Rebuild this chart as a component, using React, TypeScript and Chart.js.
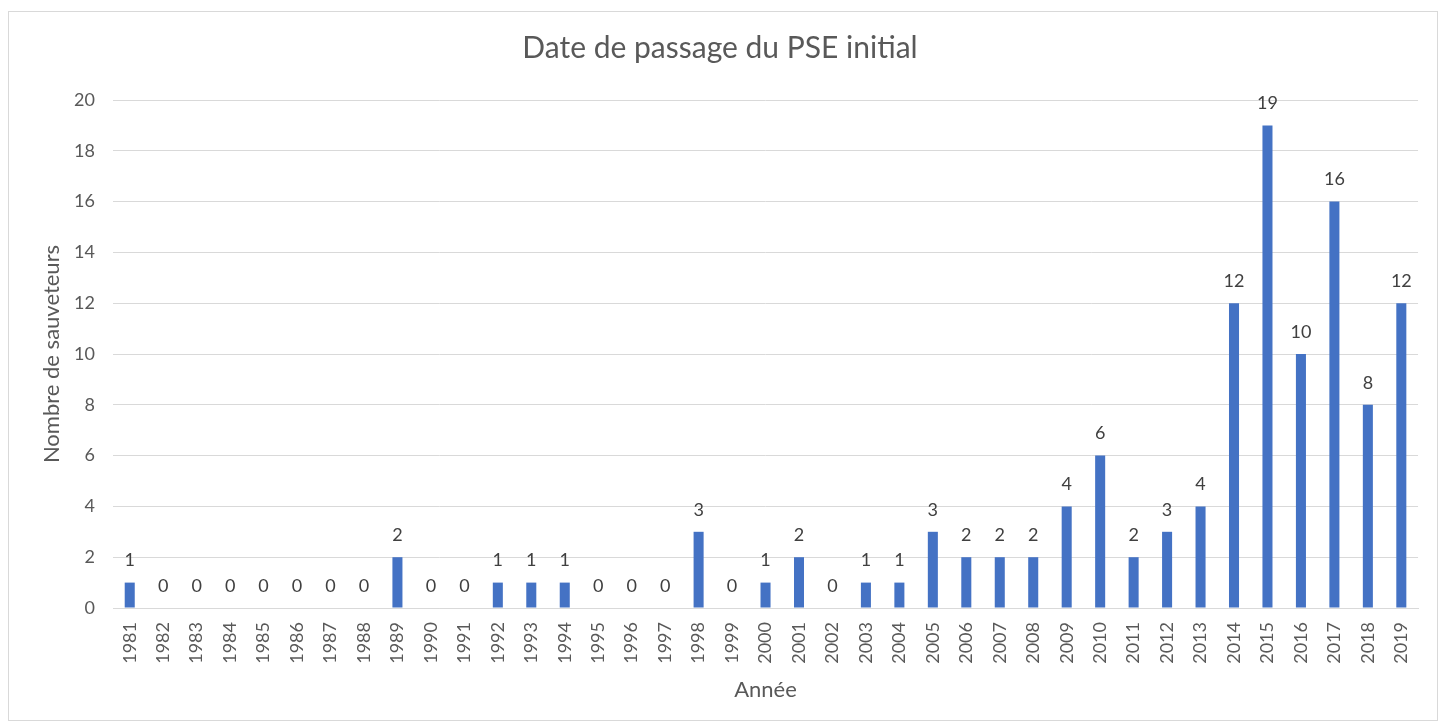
import React, { useEffect, useRef } from "react";
import { Chart, registerables } from "chart.js";

Chart.register(...registerables);

const years: string[] = [
  "1981", "1982", "1983", "1984", "1985", "1986", "1987", "1988", "1989", "1990",
  "1991", "1992", "1993", "1994", "1995", "1996", "1997", "1998", "1999", "2000",
  "2001", "2002", "2003", "2004", "2005", "2006", "2007", "2008", "2009", "2010",
  "2011", "2012", "2013", "2014", "2015", "2016", "2017", "2018", "2019",
];

const sauveteurs: number[] = [
  1, 0, 0, 0, 0, 0, 0, 0, 2, 0,
  0, 1, 1, 1, 0, 0, 0, 3, 0, 1,
  2, 0, 1, 1, 3, 2, 2, 2, 4, 6,
  2, 3, 4, 12, 19, 10, 16, 8, 12,
];

const titleText = "Date de passage du PSE initial";
const xTitle = "Année";
const yTitle = "Nombre de sauveteurs";

const FONT = "Lato, 'Noto Sans', sans-serif";

const dataLabels = {
  id: "dataLabels",
  afterDatasetsDraw(chart: any) {
    const ctx = chart.ctx;
    const meta = chart.getDatasetMeta(0);
    const ds = chart.data.datasets[0];
    ctx.save();
    ctx.font = `18px ${FONT}`;
    ctx.fillStyle = "#404040";
    ctx.textAlign = "center";
    ctx.textBaseline = "middle";
    meta.data.forEach((el: any, i: number) => {
      ctx.fillText(String(ds.data[i]), el.x, el.y - 22);
    });
    ctx.restore();
  },
};

export default function App() {
  const ref = useRef<HTMLCanvasElement | null>(null);
  useEffect(() => {
    if (!ref.current) return;
    const chart = new Chart(ref.current, {
      type: "bar",
      data: {
        labels: years,
        datasets: [
          {
            data: sauveteurs,
            backgroundColor: "#4472C4",
            barPercentage: 0.3,
            categoryPercentage: 1,
          },
        ],
      },
      plugins: [dataLabels],
      options: {
        animation: false,
        responsive: true,
        maintainAspectRatio: false,
        layout: { padding: { left: 0, right: 6, top: 0, bottom: 0 } },
        plugins: {
          legend: { display: false },
          tooltip: { enabled: false },
          title: {
            display: true,
            text: titleText,
            color: "#595959",
            font: { family: FONT, size: 30, weight: "normal" },
            padding: { top: 18, bottom: 34 },
          },
        },
        scales: {
          x: {
            grid: { display: false, drawTicks: false },
            border: { display: true, color: "#d9d9d9", width: 1 },
            ticks: {
              color: "#595959",
              font: { family: FONT, size: 18 },
              minRotation: 90,
              maxRotation: 90,
              autoSkip: false,
              padding: 14,
            },
            title: {
              display: true,
              text: xTitle,
              color: "#595959",
              font: { family: FONT, size: 22 },
              padding: { top: 0, bottom: 17 },
            },
            afterFit: (s: any) => {
              s.height = 112;
            },
          },
          y: {
            min: 0,
            max: 20,
            grid: { color: "#d9d9d9", drawTicks: false },
            border: { display: false },
            ticks: {
              stepSize: 2,
              color: "#595959",
              font: { family: FONT, size: 18 },
              padding: 18,
            },
            title: {
              display: true,
              text: yTitle,
              color: "#595959",
              font: { family: FONT, size: 22 },
              padding: { top: 30, bottom: 0 },
            },
            afterFit: (s: any) => {
              s.width = 104;
            },
          },
        },
      },
    });
    return () => chart.destroy();
  }, []);

  return (
    <div
      style={{
        position: "absolute",
        left: 8,
        top: 11,
        width: 1430,
        height: 710,
        border: "1px solid #d9d9d9",
        boxSizing: "border-box",
        background: "#fff",
      }}
    >
      <div style={{ position: "relative", width: "100%", height: "100%" }}>
        <canvas ref={ref} />
      </div>
    </div>
  );
}
